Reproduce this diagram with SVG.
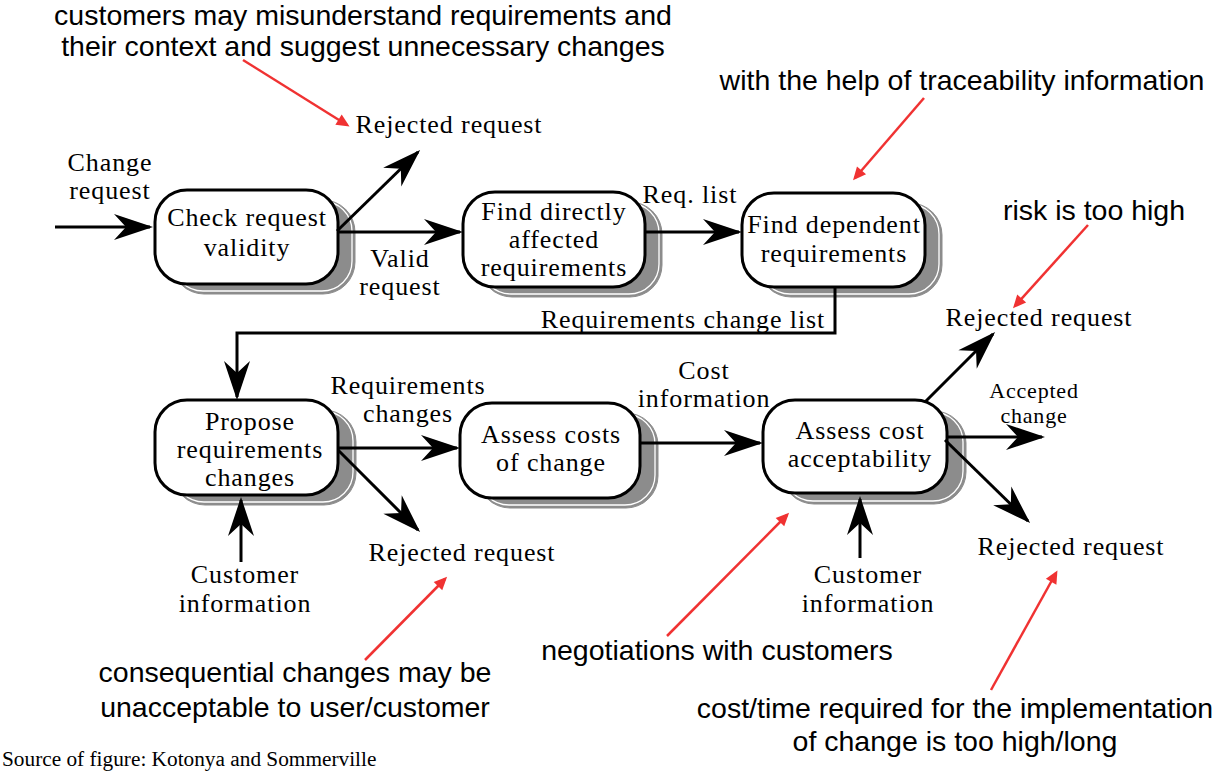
<svg xmlns="http://www.w3.org/2000/svg" width="1223" height="772" viewBox="0 0 1223 772">
<style>
.sh{fill:#8c8c8c;stroke:#8c8c8c;stroke-width:1}
.shl{fill:none;stroke:#ffffff;stroke-width:1.3}
.box{fill:#ffffff;stroke:#000000;stroke-width:3}
.t{font-family:"Liberation Serif","Times New Roman",serif;font-size:26px;letter-spacing:0.9px;fill:#000;text-anchor:middle}
.ts{font-family:"Liberation Serif","Times New Roman",serif;font-size:22px;letter-spacing:0.8px;fill:#000;text-anchor:middle}
.n{font-family:"Liberation Sans",Arial,sans-serif;font-size:28.5px;fill:#000;text-anchor:middle}
.src{font-family:"Liberation Serif","Times New Roman",serif;font-size:21.3px;fill:#000}
.c{fill:none;stroke:#000;stroke-width:3}
.r{fill:none;stroke:#f03232;stroke-width:2.5}
</style>
<defs>
<marker id="ah" markerUnits="userSpaceOnUse" markerWidth="44" markerHeight="30" refX="37" refY="15" orient="auto" overflow="visible">
<path d="M40,15 L1,2 L13,15 L1,28 Z" fill="#000"/>
</marker>
<marker id="rh" markerUnits="userSpaceOnUse" markerWidth="16" markerHeight="12" refX="10" refY="6" orient="auto" overflow="visible">
<path d="M13,6 L0,0 L0,12 Z" fill="#f03232"/>
</marker>
</defs>

<g id="n1">
<rect class="sh" x="172" y="200" width="183" height="94" rx="32"/>
<rect class="shl" x="173" y="201" width="179" height="90" rx="30"/>
<rect class="box" x="155" y="190" width="183" height="94" rx="32"/>
<text class="t" x="247" y="226">Check request</text>
<text class="t" x="247" y="256">validity</text>
</g>
<g id="n2">
<rect class="sh" x="480" y="202" width="182" height="95" rx="32"/>
<rect class="shl" x="481" y="203" width="178" height="91" rx="30"/>
<rect class="box" x="463" y="192" width="182" height="95" rx="32"/>
<text class="t" x="554" y="220">Find directly</text>
<text class="t" x="554" y="248">affected</text>
<text class="t" x="554" y="276">requirements</text>
</g>
<g id="n3">
<rect class="sh" x="759" y="203" width="183" height="94" rx="32"/>
<rect class="shl" x="760" y="204" width="179" height="90" rx="30"/>
<rect class="box" x="742" y="193" width="183" height="94" rx="32"/>
<text class="t" x="834" y="233">Find dependent</text>
<text class="t" x="834" y="262">requirements</text>
</g>
<g id="n4">
<rect class="sh" x="173" y="410" width="183" height="95" rx="32"/>
<rect class="shl" x="174" y="411" width="179" height="91" rx="30"/>
<rect class="box" x="155" y="400" width="183" height="95" rx="32"/>
<text class="t" x="250" y="430">Propose</text>
<text class="t" x="250" y="458">requirements</text>
<text class="t" x="250" y="486">changes</text>
</g>
<g id="n5">
<rect class="sh" x="478" y="413" width="180" height="95" rx="32"/>
<rect class="shl" x="479" y="414" width="176" height="91" rx="30"/>
<rect class="box" x="460" y="403" width="180" height="95" rx="32"/>
<text class="t" x="551" y="443">Assess costs</text>
<text class="t" x="551" y="471">of change</text>
</g>
<g id="n6">
<rect class="sh" x="782" y="411" width="184" height="93" rx="32"/>
<rect class="shl" x="783" y="412" width="180" height="89" rx="30"/>
<rect class="box" x="763" y="400" width="184" height="93" rx="32"/>
<text class="t" x="860" y="439">Assess cost</text>
<text class="t" x="860" y="467">acceptability</text>
</g>

<g id="connectors">
<path class="c" d="M55,227 H150" marker-end="url(#ah)"/>
<path class="c" d="M337,231 L418,152" marker-end="url(#ah)"/>
<path class="c" d="M338,232 H460" marker-end="url(#ah)"/>
<path class="c" d="M645,232 H739" marker-end="url(#ah)"/>
<path class="c" d="M835,287 V333 H237 V397" marker-end="url(#ah)"/>
<path class="c" d="M338,448 H457" marker-end="url(#ah)"/>
<path class="c" d="M338,450 L418,530" marker-end="url(#ah)"/>
<path class="c" d="M241,562 V500" marker-end="url(#ah)"/>
<path class="c" d="M640,443 H760" marker-end="url(#ah)"/>
<path class="c" d="M925,402 L993,334" marker-end="url(#ah)"/>
<path class="c" d="M947,437 H1042" marker-end="url(#ah)"/>
<path class="c" d="M945,440 L1028,521" marker-end="url(#ah)"/>
<path class="c" d="M860,558 V499" marker-end="url(#ah)"/>
<path class="r" d="M243,60 L347,125" marker-end="url(#rh)"/>
<path class="r" d="M924,98 L855,178" marker-end="url(#rh)"/>
<path class="r" d="M1088,225 L1015,306" marker-end="url(#rh)"/>
<path class="r" d="M365,660 L445,579" marker-end="url(#rh)"/>
<path class="r" d="M667,636 L787,515" marker-end="url(#rh)"/>
<path class="r" d="M991,690 L1056,573" marker-end="url(#rh)"/>
</g>

<g id="labels">
<text class="t" x="110" y="171">Change</text>
<text class="t" x="110" y="199">request</text>
<text class="t" x="449" y="133">Rejected request</text>
<text class="t" x="400" y="267">Valid</text>
<text class="t" x="400" y="295">request</text>
<text class="t" x="690" y="203">Req. list</text>
<text class="t" x="683" y="328">Requirements change list</text>
<text class="t" x="1039" y="326">Rejected request</text>
<text class="t" x="408" y="394">Requirements</text>
<text class="t" x="408" y="422">changes</text>
<text class="t" x="704" y="379">Cost</text>
<text class="t" x="704" y="407">information</text>
<text class="ts" x="1034" y="398">Accepted</text>
<text class="ts" x="1034" y="423">change</text>
<text class="t" x="462" y="561">Rejected request</text>
<text class="t" x="1071" y="555">Rejected request</text>
<text class="t" x="245" y="583">Customer</text>
<text class="t" x="245" y="612">information</text>
<text class="t" x="868" y="583">Customer</text>
<text class="t" x="868" y="612">information</text>
</g>

<g id="notes">
<text class="n" x="363" y="25">customers may misunderstand requirements and</text>
<text class="n" x="363" y="56">their context and suggest unnecessary changes</text>
<text class="n" x="962" y="90">with the help of traceability information</text>
<text class="n" x="1094" y="220">risk is too high</text>
<text class="n" x="295" y="682">consequential changes may be</text>
<text class="n" x="295" y="717">unacceptable to user/customer</text>
<text class="n" x="717" y="660">negotiations with customers</text>
<text class="n" x="955" y="718">cost/time required for the implementation</text>
<text class="n" x="955" y="751">of change is too high/long</text>
<text class="src" x="2" y="766">Source of figure: Kotonya and Sommerville</text>
</g>
</svg>
